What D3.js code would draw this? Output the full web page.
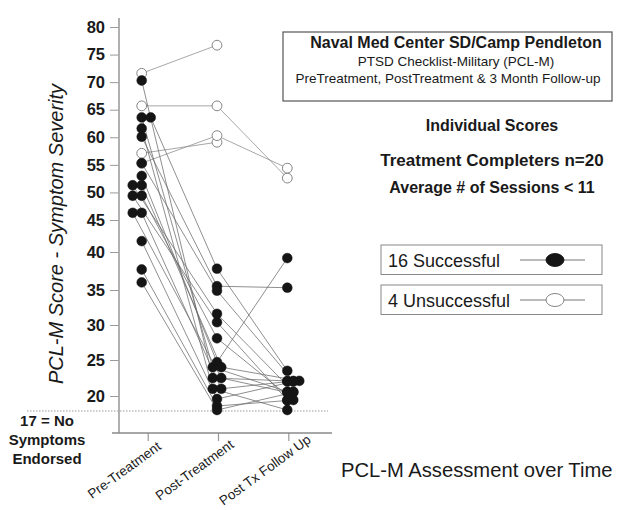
<!DOCTYPE html>
<html><head><meta charset="utf-8">
<script src="https://cdn.jsdelivr.net/npm/d3@7"></script>
<style>
body{margin:0;background:#fff}
svg{display:block}
text{font-family:"Liberation Sans",Arial,Helvetica,sans-serif;fill:#1a1a1a}
</style>
</head><body>
<svg id="chart" width="629" height="510"></svg>
<script>
// ---------------- data ----------------
const categories = ["Pre-Treatment", "Post-Treatment", "Post Tx Follow Up"];
const yTickValues = [20, 25, 30, 35, 40, 45, 50, 55, 60, 65, 70, 75, 80];
const noSymptomsScore = 17;

// 16 successful completers (filled markers)
const successfulPre      = [70.3, 63.6, 63.6, 61.6, 60.1, 55.3, 53.0, 51.3, 51.3, 49.4, 49.4, 46.3, 46.3, 41.7, 37.7, 36.0];
const successfulPost     = [22.5, 24.0, 37.8, 21.0, 35.5, 34.9, 24.7, 31.6, 24.0, 30.4, 28.1, 22.5, 21.0, 19.4, 18.0, 17.2];
const successfulFollowUp = [22.1, 20.6, 23.5, 17.2, 35.3, 22.1, 39.2, 20.6, 22.1, 19.2, 19.2, 20.5, 22.0, 22.0, 19.1, 20.5];

// 4 unsuccessful completers (open markers)
const unsuccessfulPre      = [71.6, 65.7, 57.1, 55.3];
const unsuccessfulPost     = [76.7, 65.7, 59.1, 60.3];
const unsuccessfulFollowUp = [null, 52.6, null, 54.4];

const titleLines = ["Naval Med Center SD/Camp Pendleton", "PTSD Checklist-Military (PCL-M)", "PreTreatment, PostTreatment & 3 Month Follow-up"];
const infoLines = ["Individual Scores", "Treatment Completers n=20", "Average # of Sessions < 11"];
const legendLabels = ["16 Successful", "4 Unsuccessful"];
const yAxisTitle = "PCL-M Score - Symptom Severity";
const xAxisTitle = "PCL-M Assessment over Time";
const floorNote = ["17 = No", "Symptoms", "Endorsed"];

// ---------------- layout ----------------
const svg = d3.select("#chart");

// irregular (hand-drawn) vertical scale: piecewise linear
const y = d3.scaleLinear()
  .domain([17, 20, 25, 30, 35, 40, 45, 80])
  .range([411, 396, 360, 325, 290, 252, 220, 27]);
const x = d3.scalePoint().domain(categories).range([147.7, 288.3]);

// marker column placement (dodge identical values)
const colShift = [-6, -1, -1], colStep = [9, 8.5, 6], colAnchor = [1, 0.5, 0];

function buildPeople(pre, post, fu, ok) {
  return pre.map((v, i) => ({ ok, vals: [v, post[i], fu[i]] }));
}
const people = buildPeople(unsuccessfulPre, unsuccessfulPost, unsuccessfulFollowUp, false)
  .concat(buildPeople(successfulPre, successfulPost, successfulFollowUp, true));

people.forEach(p => p.pos = [null, null, null]);
categories.forEach((c, ci) => {
  const groups = d3.group(people.filter(p => p.vals[ci] != null), p => (p.ok ? "s" : "u") + p.vals[ci]);
  groups.forEach(arr => {
    const n = arr.length;
    // in the first column the top pair sits to the right, the others to the left
    const anchor = (ci === 0 && arr[0].vals[0] > 62) ? 0 : colAnchor[ci];
    arr.forEach((p, i) => {
      p.pos[ci] = [x(c) + colShift[ci] + (i - (n - 1) * anchor) * colStep[ci], y(p.vals[ci])];
    });
  });
});

// dotted "17" floor line
svg.append("line")
  .attr("x1", 27).attr("x2", 328).attr("y1", y(noSymptomsScore)).attr("y2", y(noSymptomsScore))
  .attr("stroke", "#999").attr("stroke-width", 1).attr("stroke-dasharray", "1.5,1.5");

// y axis
const yAxis = svg.append("g").attr("transform", "translate(119,0)")
  .call(d3.axisLeft(y).tickValues(yTickValues).tickSize(9).tickPadding(5).tickFormat(d3.format("d")));
yAxis.select(".domain").remove();
yAxis.selectAll(".tick line").attr("stroke", "#999").attr("stroke-width", 1);
yAxis.selectAll(".tick text").attr("font-size", 16.5).attr("font-weight", "bold")
  .attr("fill", "#1a1a1a").style("font-family", '"Liberation Sans",Arial,sans-serif');
svg.append("line").attr("x1", 119).attr("x2", 119).attr("y1", 18).attr("y2", 433)
  .attr("stroke", "#a8a8a8").attr("stroke-width", 1.8);

// x axis
const xAxis = svg.append("g").attr("transform", "translate(0,433)")
  .call(d3.axisBottom(x).tickSize(8).tickPadding(0));
xAxis.select(".domain").remove();
xAxis.selectAll(".tick line").attr("stroke", "#999").attr("stroke-width", 1.2);
xAxis.selectAll(".tick text")
  .attr("y", 0).attr("dy", "0.35em").attr("text-anchor", "middle")
  .attr("transform", "translate(-24,37) rotate(-36)")
  .attr("font-size", 13.5).attr("fill", "#1a1a1a")
  .style("font-family", '"Liberation Sans",Arial,sans-serif');
svg.append("line").attr("x1", 112).attr("x2", 332).attr("y1", 433).attr("y2", 433)
  .attr("stroke", "#8a8a8a").attr("stroke-width", 1.5);

// connecting lines
const lineGen = d3.line().defined(d => d != null);
svg.append("g").selectAll("path").data(people).join("path")
  .attr("d", p => lineGen(p.pos))
  .attr("fill", "none")
  .attr("stroke", p => p.ok ? "#6a6a6a" : "#8a8a8a")
  .attr("stroke-width", 0.75);

// markers: unsuccessful first, successful on top
const pts = [];
people.forEach(p => p.pos.forEach(q => { if (q) pts.push({ ok: p.ok, q }); }));
svg.append("g").selectAll("circle").data(pts).join("circle")
  .attr("cx", d => d.q[0]).attr("cy", d => d.q[1])
  .attr("r", 4.9)
  .attr("fill", d => d.ok ? "#151515" : "#fff")
  .attr("stroke", d => d.ok ? "#151515" : "#777")
  .attr("stroke-width", d => d.ok ? 0.5 : 0.9);

// y axis title
svg.append("text")
  .attr("transform", "translate(63,234) rotate(-90)")
  .attr("text-anchor", "middle").attr("font-size", 20).attr("font-style", "italic")
  .text(yAxisTitle);

// floor note
svg.append("g").selectAll("text").data(floorNote).join("text")
  .attr("x", 47).attr("y", (d, i) => 426 + i * 19)
  .attr("text-anchor", "middle").attr("font-size", 15).attr("font-weight", "bold")
  .text(d => d);

// x axis title
svg.append("text").attr("x", 341).attr("y", 477).attr("font-size", 20.2).text(xAxisTitle);

// title box
svg.append("rect").attr("x", 283).attr("y", 32).attr("width", 329).attr("height", 69)
  .attr("fill", "none").attr("stroke", "#555").attr("stroke-width", 1.2);
svg.append("g").selectAll("text").data(titleLines).join("text")
  .attr("x", (d, i) => i === 2 ? 448 : 456).attr("y", (d, i) => [48, 66, 83][i])
  .attr("text-anchor", "middle")
  .attr("font-size", (d, i) => i === 0 ? 16 : 13.5)
  .attr("font-weight", (d, i) => i === 0 ? "bold" : "normal")
  .text(d => d);

// info lines
svg.append("g").selectAll("text").data(infoLines).join("text")
  .attr("x", 492).attr("y", (d, i) => [131, 166, 193][i])
  .attr("text-anchor", "middle")
  .attr("font-size", (d, i) => [16, 17, 16][i])
  .attr("font-weight", "bold")
  .text(d => d);

// legend
const legendY = [245, 285];
const lg = svg.append("g").selectAll("g").data(legendLabels).join("g")
  .attr("transform", (d, i) => `translate(0,${legendY[i]})`);
lg.append("rect").attr("x", 381).attr("y", 0).attr("width", 221).attr("height", 29.5)
  .attr("fill", "none").attr("stroke", "#888").attr("stroke-width", 1);
lg.append("text").attr("x", 388).attr("y", 21.5).attr("font-size", 18).text(d => d);
lg.append("line").attr("x1", 520).attr("x2", 585).attr("y1", 15).attr("y2", 15)
  .attr("stroke", "#666").attr("stroke-width", 0.9);
lg.append("ellipse").attr("cx", 555).attr("cy", 15).attr("rx", 9).attr("ry", 6.5)
  .attr("fill", (d, i) => i === 0 ? "#151515" : "#fff")
  .attr("stroke", (d, i) => i === 0 ? "#151515" : "#777").attr("stroke-width", 0.9);
</script>
</body></html>
